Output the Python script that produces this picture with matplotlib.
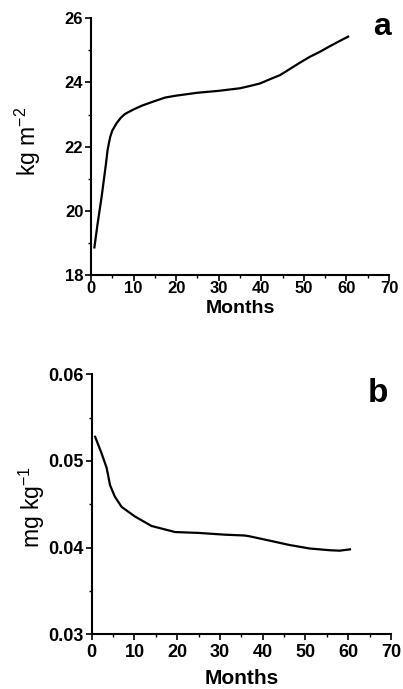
import matplotlib
matplotlib.use("Agg")
import matplotlib.pyplot as plt
from matplotlib.ticker import MultipleLocator, FormatStrFormatter

plt.rcParams['font.family'] = ['Liberation Sans', 'DejaVu Sans']
plt.rcParams['mathtext.default'] = 'regular'

# panel a: kg m-2 against months
months_a = [0.8, 1.5, 2.5, 3.5, 3.9, 4.5, 5.0, 6.0, 7.0, 8.0, 10, 12, 14.3, 17.4,
            20, 25, 30, 35, 37.3, 39.7, 42, 44.4, 46.7, 49.1, 51.4, 53.8, 56.1,
            58.5, 60.4]
kg_m2 = [18.86, 19.55, 20.44, 21.45, 21.9, 22.3, 22.5, 22.73, 22.9, 23.02, 23.16,
         23.28, 23.39, 23.53, 23.59, 23.68, 23.74, 23.82, 23.89, 23.97, 24.1,
         24.23, 24.42, 24.62, 24.8, 24.96, 25.13, 25.30, 25.43]

# panel b: mg kg-1 against months
months_b = [0.8, 2.3, 3.5, 4.3, 5.4, 7.0, 10.1, 14, 19.5, 25, 31, 35.8, 37,
            41.7, 46.3, 51, 55.7, 58, 60.4]
mg_kg = [0.0528, 0.0509, 0.0492, 0.0472, 0.0459, 0.0447, 0.0436, 0.0425, 0.0418,
         0.0417, 0.0415, 0.0414, 0.0413, 0.0408, 0.0403, 0.0399, 0.0397, 0.03965,
         0.0398]

fig = plt.figure(figsize=(4.03, 6.89), dpi=100)
ax1 = fig.add_axes([0.2258, 0.6009, 0.7395, 0.3725])
ax2 = fig.add_axes([0.2275, 0.0794, 0.7427, 0.3773])


def style(ax, size, xpad, lpad, msize):
    for s in ['top', 'right']:
        ax.spines[s].set_visible(False)
    for s in ['left', 'bottom']:
        ax.spines[s].set_linewidth(1.5)
    ax.set_xlim(0, 70)
    ax.xaxis.set_major_locator(MultipleLocator(10))
    ax.xaxis.set_minor_locator(MultipleLocator(5))
    ax.tick_params(which='major', direction='out', length=4, width=1.2,
                   labelsize=size, pad=1.5)
    ax.tick_params(axis='x', which='major', pad=xpad)
    ax.tick_params(which='minor', direction='out', length=2.5, width=1)
    for lab in ax.get_xticklabels() + ax.get_yticklabels():
        lab.set_fontweight('bold')
    ax.set_xlabel('Months', fontsize=msize, fontweight='bold', labelpad=lpad)


ax1.plot(months_a, kg_m2, color='black', lw=1.6)
ax1.set_ylim(18, 26)
ax1.yaxis.set_major_locator(MultipleLocator(2))
ax1.yaxis.set_minor_locator(MultipleLocator(1))
style(ax1, 12, 0.5, 2.5, 14)
ax1.set_ylabel('kg m$^{-2}$', fontsize=16.5)
ax1.yaxis.set_label_coords(-0.16, 0.52)
ax1.text(1.005, 1.025, 'a', transform=ax1.transAxes, ha='right', va='top',
         fontsize=23, fontweight='bold')

ax2.plot(months_b, mg_kg, color='black', lw=1.6)
ax2.set_ylim(0.03, 0.06)
ax2.yaxis.set_major_locator(MultipleLocator(0.01))
ax2.yaxis.set_minor_locator(MultipleLocator(0.005))
ax2.yaxis.set_major_formatter(FormatStrFormatter('%.2f'))
style(ax2, 13, 3, 6, 15)
ax2.set_ylabel('mg kg$^{-1}$', fontsize=16.5)
ax2.yaxis.set_label_coords(-0.15, 0.49)
ax2.text(0.99, 0.985, 'b', transform=ax2.transAxes, ha='right', va='top',
         fontsize=24, fontweight='bold')

fig.savefig('out.png', dpi=100)
